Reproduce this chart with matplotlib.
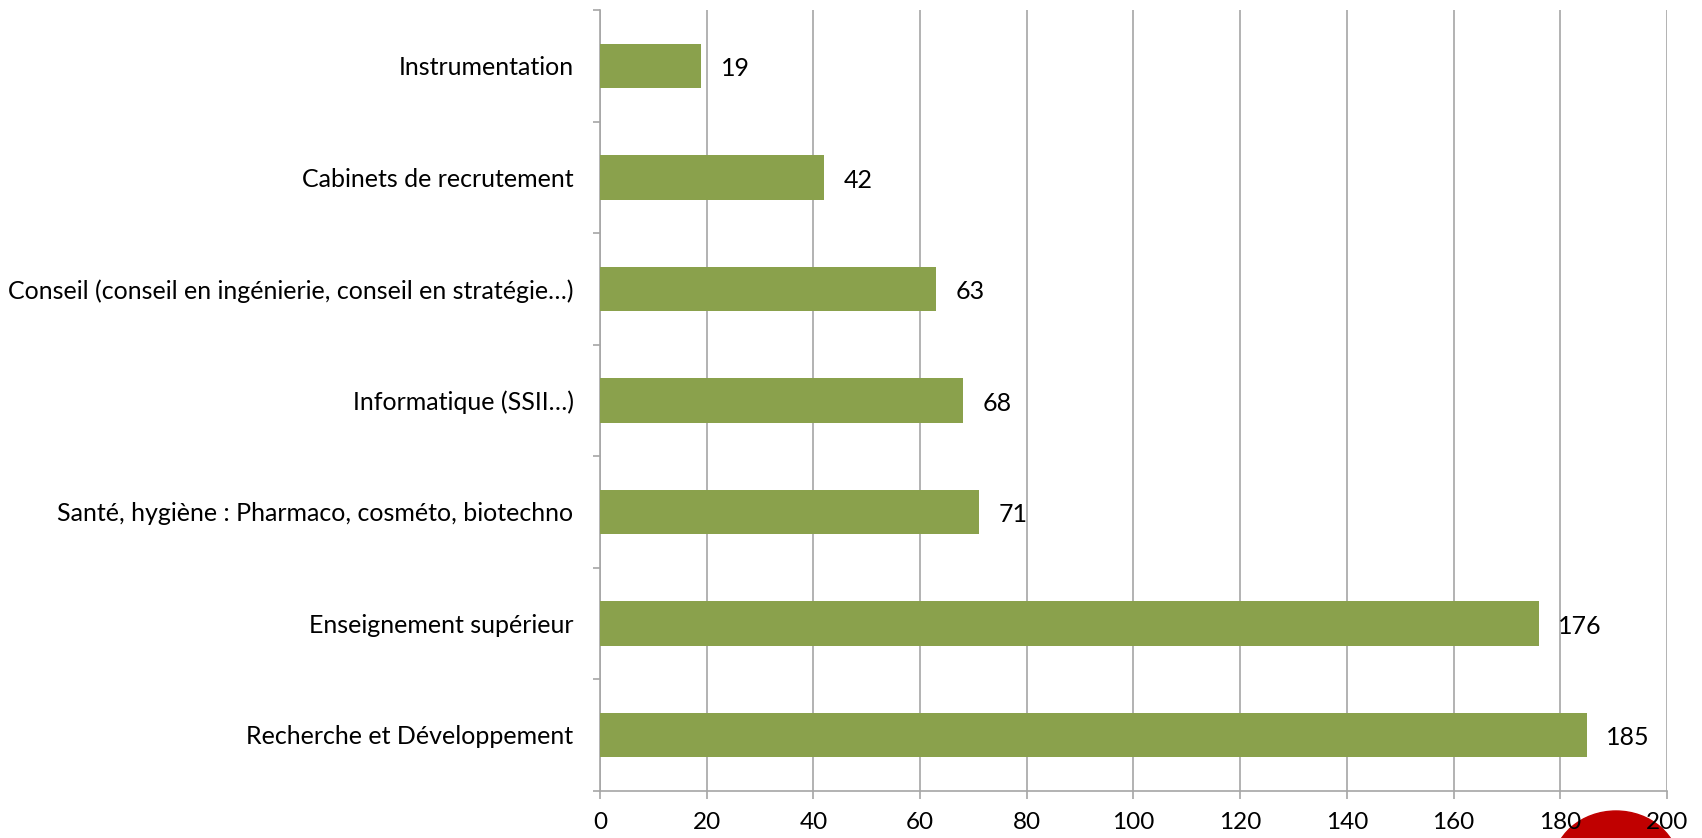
import numpy as np
import matplotlib.pyplot as plt
from matplotlib.patches import Ellipse

plt.rcParams['font.family'] = ['Lato', 'DejaVu Sans']

categories = [
    "Recherche et Développement",
    "Enseignement supérieur",
    "Santé, hygiène : Pharmaco, cosméto, biotechno",
    "Informatique (SSII…)",
    "Conseil (conseil en ingénierie, conseil en stratégie…)",
    "Cabinets de recrutement",
    "Instrumentation",
]
values = [185, 176, 71, 68, 63, 42, 19]
xticks = [0, 20, 40, 60, 80, 100, 120, 140, 160, 180, 200]

bar_color = "#8aa14c"
grid_color = "#a6a6a6"
fs = 18

fig = plt.figure(figsize=(17.02, 8.38), dpi=100)
ax = fig.add_axes([0.3525, 0.0564, 0.9794 - 0.3525, 0.988 - 0.0564])

y = np.arange(len(categories))
ax.barh(y, values, height=0.4, color=bar_color, zorder=3)

for yi, v in zip(y, values):
    ax.annotate(str(v), (v, yi), xytext=(14, -2), textcoords="offset points",
                va="center", ha="left", fontsize=fs, color="black")

ax.set_xlim(0, 200)
ax.set_ylim(-0.5, len(categories) - 0.5)
ax.set_xticks(xticks)
ax.set_xticklabels([str(t) for t in xticks], fontsize=17.5)
ax.set_yticks(y)
ax.set_yticklabels(categories, fontsize=fs)
ax.set_yticks(np.arange(-0.5, len(categories), 1), minor=True)

ax.tick_params(axis="y", which="major", length=0, pad=19)
ax.tick_params(axis="y", which="minor", length=5, width=1.2, color=grid_color, direction="out")
ax.tick_params(axis="x", which="major", length=6, width=1.2, color=grid_color, pad=9)

ax.grid(axis="x", color=grid_color, linewidth=1.2, zorder=0)
for s in ["top", "right"]:
    ax.spines[s].set_visible(False)
for s in ["left", "bottom"]:
    ax.spines[s].set_color(grid_color)
    ax.spines[s].set_linewidth(1.2)

# red blob in the lower right corner
fig.patches.append(Ellipse((1616 / 1702, -28 / 838), 126 / 1702, 110 / 838,
                           transform=fig.transFigure, color="#c00000", zorder=-1))

fig.savefig("out.png", dpi=100)
